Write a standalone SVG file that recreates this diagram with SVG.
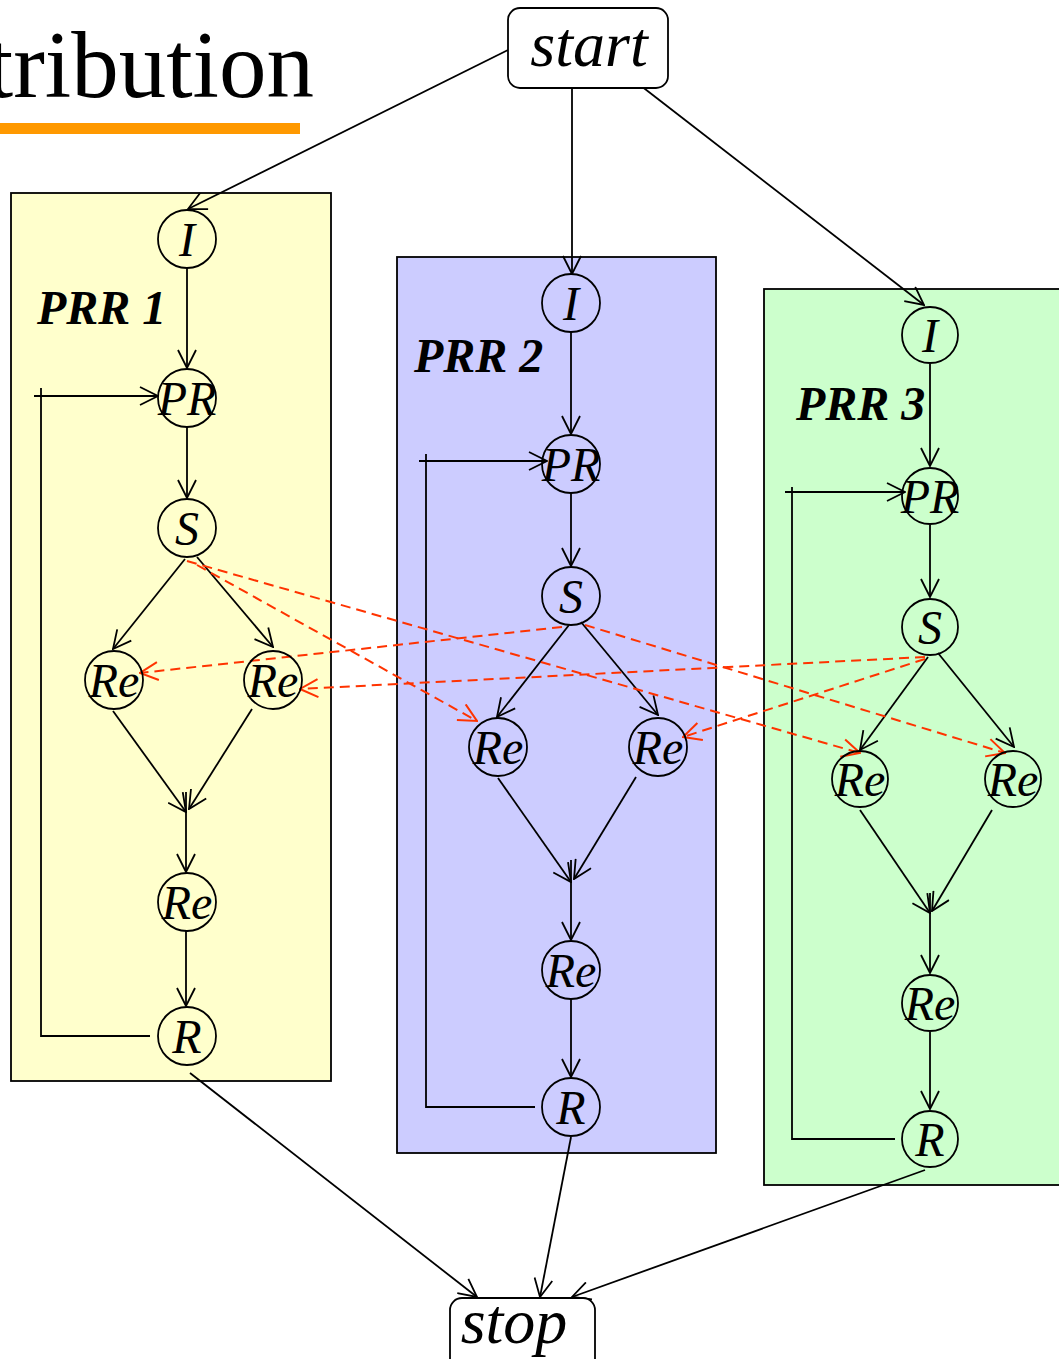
<svg xmlns="http://www.w3.org/2000/svg" width="1059" height="1359" viewBox="0 0 1059 1359">
<defs>
<marker id="ah" viewBox="0 0 20 20" refX="19" refY="10" markerWidth="20" markerHeight="20" markerUnits="userSpaceOnUse" orient="auto">
<path d="M1,1 L19,10 L1,19" fill="none" stroke="#000" stroke-width="1.8"/>
</marker>
<marker id="ahr" viewBox="0 0 20 20" refX="19" refY="10" markerWidth="20" markerHeight="20" markerUnits="userSpaceOnUse" orient="auto">
<path d="M1,1 L19,10 L1,19" fill="none" stroke="#FF3300" stroke-width="2"/>
</marker>
</defs>
<style>
.box{stroke:#000;stroke-width:1.8}
.n{fill:none;stroke:#000;stroke-width:1.8}
.t{font-family:"Liberation Serif",serif;font-style:italic;font-size:48px;text-anchor:middle;fill:#000}
.lbl{font-family:"Liberation Serif",serif;font-style:italic;font-weight:bold;font-size:48px;fill:#000}
.e{fill:none;stroke:#000;stroke-width:1.8}
.ea{fill:none;stroke:#000;stroke-width:1.8;marker-end:url(#ah)}
.r{fill:none;stroke:#FF3300;stroke-width:2;stroke-dasharray:10,6;marker-end:url(#ahr)}
.term{fill:#fff;stroke:#000;stroke-width:1.8}
.tt{font-family:"Liberation Serif",serif;font-style:italic;font-size:64px;text-anchor:middle;fill:#000}
.title{font-family:"Liberation Serif",serif;font-size:95px;text-anchor:end;fill:#000}
</style>
<rect width="1059" height="1359" fill="#fff"/>
<text class="title" x="314" y="97">tribution</text>
<rect x="0" y="123" width="300" height="11" fill="#FF9900"/>

<g id="prr1">
<rect class="box" x="11" y="193" width="320" height="888" fill="#FFFFCC"/>
<text class="lbl" x="37" y="324">PRR 1</text>
</g>
<g id="prr2">
<rect class="box" x="397" y="257" width="319" height="896" fill="#CCCCFF"/>
<text class="lbl" x="414" y="372">PRR 2</text>
</g>
<g id="prr3">
<rect class="box" x="764" y="289" width="300" height="896" fill="#CCFFCC"/>
<text class="lbl" x="796" y="420">PRR 3</text>
</g>

<g id="connectors">
<line class="ea" x1="508" y1="50" x2="188" y2="209"/>
<line class="ea" x1="572" y1="82" x2="572" y2="274"/>
<line class="ea" x1="636" y1="82" x2="924" y2="305"/>
<line class="ea" x1="187" y1="268" x2="187" y2="368"/>
<line class="ea" x1="187" y1="427" x2="187" y2="498"/>
<line class="ea" x1="185" y1="559" x2="113" y2="649"/>
<line class="ea" x1="197" y1="557" x2="273" y2="647"/>
<line class="ea" x1="113" y1="711" x2="186" y2="812"/>
<line class="ea" x1="252" y1="709" x2="189" y2="809"/>
<line class="ea" x1="186" y1="792" x2="186" y2="872"/>
<line class="ea" x1="186" y1="931" x2="186" y2="1006"/>
<polyline class="e" points="150,1036 41,1036 41,388"/>
<line class="ea" x1="34" y1="396" x2="158" y2="396"/>
<line class="ea" x1="190" y1="1073" x2="477" y2="1297"/>
<line class="ea" x1="571" y1="332" x2="571" y2="434"/>
<line class="ea" x1="571" y1="493" x2="571" y2="566"/>
<line class="ea" x1="569" y1="625" x2="497" y2="717"/>
<line class="ea" x1="581" y1="622" x2="658" y2="715"/>
<line class="ea" x1="498" y1="778" x2="571" y2="882"/>
<line class="ea" x1="636" y1="777" x2="574" y2="879"/>
<line class="ea" x1="571" y1="860" x2="571" y2="940"/>
<line class="ea" x1="571" y1="999" x2="571" y2="1077"/>
<polyline class="e" points="535,1107 426,1107 426,454"/>
<line class="ea" x1="419" y1="461" x2="547" y2="461"/>
<line class="ea" x1="571" y1="1137" x2="540" y2="1297"/>
<line class="ea" x1="930" y1="364" x2="930" y2="466"/>
<line class="ea" x1="930" y1="525" x2="930" y2="597"/>
<line class="ea" x1="928" y1="657" x2="860" y2="750"/>
<line class="ea" x1="938" y1="653" x2="1014" y2="747"/>
<line class="ea" x1="860" y1="810" x2="930" y2="913"/>
<line class="ea" x1="992" y1="810" x2="932" y2="911"/>
<line class="ea" x1="930" y1="893" x2="930" y2="973"/>
<line class="ea" x1="930" y1="1032" x2="930" y2="1109"/>
<polyline class="e" points="895,1139 792,1139 792,487"/>
<line class="ea" x1="785" y1="492" x2="905" y2="492"/>
<line class="ea" x1="925" y1="1170" x2="572" y2="1297"/>
<line class="r" x1="197" y1="565" x2="477" y2="721"/>
<line class="r" x1="187" y1="561" x2="860" y2="753"/>
<line class="r" x1="562" y1="627" x2="140" y2="673"/>
<line class="r" x1="585" y1="625" x2="1005" y2="753"/>
<line class="r" x1="925" y1="657" x2="300" y2="689"/>
<line class="r" x1="925" y1="659" x2="683" y2="737"/>
</g>

<g id="start"><rect class="term" x="508" y="8" width="160" height="80" rx="12"/><text class="tt" x="589" y="66">start</text></g>
<g id="stop"><rect class="term" x="450" y="1298" width="145" height="80" rx="12"/><text class="tt" x="514" y="1343">stop</text></g>

<g id="p1_I"><circle class="n" cx="187" cy="239" r="29"/><text class="t" x="187" y="256">I</text></g>
<g id="p1_PR"><circle class="n" cx="187" cy="398" r="29"/><text class="t" x="187" y="415">PR</text></g>
<g id="p1_S"><circle class="n" cx="187" cy="528" r="29"/><text class="t" x="187" y="545">S</text></g>
<g id="p1_ReL"><circle class="n" cx="114" cy="680" r="29"/><text class="t" x="114" y="697">Re</text></g>
<g id="p1_ReR"><circle class="n" cx="273" cy="680" r="29"/><text class="t" x="273" y="697">Re</text></g>
<g id="p1_Re"><circle class="n" cx="187" cy="902" r="29"/><text class="t" x="187" y="919">Re</text></g>
<g id="p1_R"><circle class="n" cx="187" cy="1036" r="29"/><text class="t" x="187" y="1053">R</text></g>

<g id="p2_I"><circle class="n" cx="571" cy="303" r="29"/><text class="t" x="571" y="320">I</text></g>
<g id="p2_PR"><circle class="n" cx="571" cy="464" r="29"/><text class="t" x="571" y="481">PR</text></g>
<g id="p2_S"><circle class="n" cx="571" cy="596" r="29"/><text class="t" x="571" y="613">S</text></g>
<g id="p2_ReL"><circle class="n" cx="498" cy="747" r="29"/><text class="t" x="498" y="764">Re</text></g>
<g id="p2_ReR"><circle class="n" cx="658" cy="747" r="29"/><text class="t" x="658" y="764">Re</text></g>
<g id="p2_Re"><circle class="n" cx="571" cy="970" r="29"/><text class="t" x="571" y="987">Re</text></g>
<g id="p2_R"><circle class="n" cx="571" cy="1107" r="29"/><text class="t" x="571" y="1124">R</text></g>

<g id="p3_I"><circle class="n" cx="930" cy="335" r="28"/><text class="t" x="930" y="352">I</text></g>
<g id="p3_PR"><circle class="n" cx="930" cy="496" r="28"/><text class="t" x="930" y="513">PR</text></g>
<g id="p3_S"><circle class="n" cx="930" cy="627" r="28"/><text class="t" x="930" y="644">S</text></g>
<g id="p3_ReL"><circle class="n" cx="860" cy="779" r="28"/><text class="t" x="860" y="796">Re</text></g>
<g id="p3_ReR"><circle class="n" cx="1013" cy="779" r="28"/><text class="t" x="1013" y="796">Re</text></g>
<g id="p3_Re"><circle class="n" cx="930" cy="1003" r="28"/><text class="t" x="930" y="1020">Re</text></g>
<g id="p3_R"><circle class="n" cx="930" cy="1139" r="28"/><text class="t" x="930" y="1156">R</text></g>
</svg>
